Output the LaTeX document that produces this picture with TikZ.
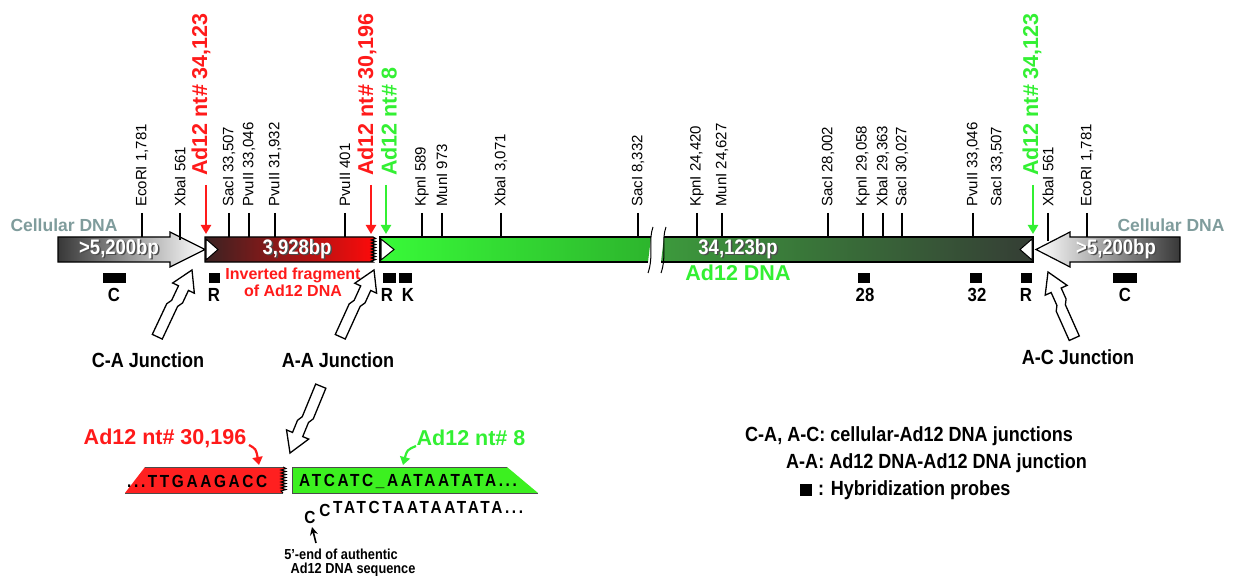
\documentclass[tikz,border=0pt]{standalone}
\usepackage{fontspec}
\setmainfont{Liberation Sans}
\newfontfamily\cf{Liberation Sans}[FakeStretch=0.88]
\usetikzlibrary{calc,arrows.meta}
\definecolor{cellg}{HTML}{7F9C9C}
\definecolor{myred}{HTML}{FF1A1A}
\definecolor{mygreen}{HTML}{33F033}
\definecolor{redL}{HTML}{3A2222}
\definecolor{redR}{HTML}{FF0A0A}
\definecolor{g1L}{HTML}{38FA38}
\definecolor{g1R}{HTML}{2DB52D}
\definecolor{g2L}{HTML}{3C9A3C}
\definecolor{g2R}{HTML}{353D35}
\definecolor{seqred}{HTML}{FF2020}
\definecolor{seqgreen}{HTML}{3CF020}
\tikzset{
 site/.style={font=\fontsize{15}{15}\selectfont, rotate=90, anchor=west, inner sep=0pt},
 adlab/.style={font=\bfseries\fontsize{21.5}{22}\selectfont, rotate=90, anchor=west, inner sep=0pt},
 ticks/.style={line width=1.1pt},
 ptr/.style={line width=2.2pt, -{Triangle[length=9pt,width=10pt]}},
 probebox/.style={fill=black, inner sep=0pt, anchor=north west},
 plab/.style={font=\cf\bfseries\fontsize{19}{19}\selectfont, inner sep=0pt},
 junc/.style={font=\cf\bfseries\fontsize{20.5}{21}\selectfont, inner sep=0pt},
 bptext/.style={font=\cf\bfseries\fontsize{21}{21}\selectfont, text=white, inner sep=0pt},
 bpshadow/.style={font=\cf\bfseries\fontsize{21}{21}\selectfont, text=black!70, inner sep=0pt},
 barrow/.style={draw=black, fill=white, line width=1.3pt, line join=miter},
 outline/.style={draw=black, line width=1.2pt},
 seq/.style={font=\cf\bfseries\fontsize{17.5}{17.5}\selectfont\addfontfeature{LetterSpace=15}, inner sep=0pt},
 leg/.style={font=\cf\bfseries\fontsize{20.5}{21}\selectfont, inner sep=0pt, anchor=west},
 colab/.style={font=\bfseries\fontsize{21.5}{22}\selectfont, inner sep=0pt},
 celllab/.style={font=\bfseries\fontsize{17.5}{18}\selectfont, text=cellg, inner sep=0pt},
 smalllab/.style={font=\cf\bfseries\fontsize{14.5}{15}\selectfont, inner sep=0pt},
}
\newcommand\blockarrow[2]{%
\path[barrow] ($(#1)!8.5pt!90:(#2)$) -- ($(#1)!0.45!(#2)!8.5pt!90:(#2)$)
 -- ($(#1)!0.52!(#2)!5.5pt!90:(#2)$) -- ($(#2)!20pt!(#1)!5.5pt!-90:(#1)$)
 -- ($(#2)!20pt!(#1)!12pt!-90:(#1)$) -- (#2)
 -- ($(#2)!20pt!(#1)!12pt!90:(#1)$) -- ($(#2)!20pt!(#1)!5.5pt!90:(#1)$)
 -- ($(#1)!0.55!(#2)!5.5pt!-90:(#2)$) -- ($(#1)!0.48!(#2)!2.5pt!-90:(#2)$)
 -- ($(#1)!2.5pt!-90:(#2)$) -- cycle;}
\begin{document}
\begin{tikzpicture}[x=1pt,y=-1pt]
\useasboundingbox[fill=white] (0,0) rectangle (1233,577);

% ---------- left cellular arrow
\path[left color=black!78, right color=white, draw=black, line width=1.2pt]
 (58,237) -- (170,237) -- (170,232) -- (205,249.5) -- (170,267) -- (170,262) -- (58,262) -- cycle;
\node[bpshadow] (bpLs) at (120.5,250.5) {>5,200bp};
\node[bptext] (bpL) at (119,249) {>5,200bp};
\node[celllab] (cellL) at (64,225) {Cellular DNA};

% ---------- red inverted fragment
\path[left color=redL, right color=redR, draw=black, line width=1.2pt]
 (205,237) -- (373,237) \foreach \k in {0,...,7} { -- (375.5,{238.5+3*\k}) -- (371.5,{240+3*\k}) } -- (373,262) -- (205,262) -- cycle;
\filldraw[fill=white, draw=black, line width=1pt] (206,239) -- (218,249.5) -- (206,260) -- cycle;
\node[bpshadow] (bpRs) at (298.5,250.5) {3,928bp};
\node[bptext] (bpR) at (297,249) {3,928bp};

% ---------- green Ad12 DNA
\shade[left color=g1L, right color=g1R] (380,237) -- (651,237) -- (648,262) -- (380,262) -- cycle;
\draw[outline] (651,237) -- (380,237) -- (380,262) -- (648,262);
\shade[left color=g2L, right color=g2R] (664,237) -- (1033,237) -- (1033,262) -- (661,262) -- cycle;
\draw[outline] (664,237) -- (1033,237) -- (1033,262) -- (661,262);
\draw[line width=1pt] (653,227) .. controls (648,240) and (654,256) .. (648,273);
\draw[line width=1pt] (666,227) .. controls (661,240) and (667,256) .. (661,273);
\filldraw[fill=white, draw=black, line width=1pt] (381,239) -- (394,249.5) -- (381,260) -- cycle;
\filldraw[fill=white, draw=black, line width=1pt] (1032,239) -- (1020,249.5) -- (1032,260) -- cycle;
\node[bpshadow] (bpGs) at (739.5,250.5) {34,123bp};
\node[bptext] (bpG) at (738,249) {34,123bp};
\node[colab, text=mygreen] (adDNA) at (738,273) {Ad12 DNA};

% ---------- right cellular arrow
\path[left color=white, right color=black!78, draw=black, line width=1.2pt]
 (1036,249.5) -- (1070,232) -- (1070,237) -- (1180,237) -- (1180,262) -- (1070,262) -- (1070,267) -- cycle;
\node[bpshadow] (bpRRs) at (1117.5,250.5) {>5,200bp};
\node[bptext] (bpRR) at (1116,249) {>5,200bp};
\node[celllab] (cellR) at (1171,225) {Cellular DNA};

% ---------- restriction sites
\foreach \x/\t/\b [count=\i] in {142/{EcoRI 1,781}/237, 180/{XbaI 561}/240, 229/{SacI 33,507}/237,
  249/{PvuII 33,046}/237, 275/{PvuII 31,932}/237, 345/{PvuII 401}/237,
  422/{KpnI 589}/237, 442/{MunI 973}/237, 501/{XbaI 3,071}/237, 638/{SacI 8,332}/237,
  697/{KpnI 24,420}/237, 722/{MunI 24,627}/237, 828/{SacI 28,002}/237, 863/{KpnI 29,058}/237,
  883/{XbaI 29,363}/237, 902/{SacI 30,027}/237, 973/{PvuII 33,046}/237,
  1048/{XbaI 561}/241, 1087/{EcoRI 1,781}/237}{
  \coordinate (tb\i) at (\x,\b);
  \coordinate (tt\i) at (\x,213);
  \node[site] (s\i) at (\x,207) {\t};
  \draw[ticks] (tt\i) -- (tb\i);
}
\node[site] (sNoTick) at (997,207) {SacI 33,507};

% ---------- junction pointers (top)
\coordinate (pa1) at (206,185); \coordinate (pa1e) at (206,234);
\draw[ptr, myred] (pa1) -- (pa1e);
\node[adlab, text=myred] (ad1) at (201,176) {Ad12 nt\# 34,123};
\coordinate (pa2) at (371,185); \coordinate (pa2e) at (371,234);
\draw[ptr, myred] (pa2) -- (pa2e);
\node[adlab, text=myred] (ad2) at (367,176) {Ad12 nt\# 30,196};
\coordinate (pa3) at (386,185); \coordinate (pa3e) at (386,234);
\draw[ptr, mygreen] (pa3) -- (pa3e);
\node[adlab, text=mygreen] (ad3) at (389,176) {Ad12 nt\# 8};
\coordinate (pa4) at (1033,185); \coordinate (pa4e) at (1033,234);
\draw[ptr, mygreen] (pa4) -- (pa4e);
\node[adlab, text=mygreen] (ad4) at (1032,176) {Ad12 nt\# 34,123};

% ---------- probes
\node[probebox, minimum width=23pt, minimum height=10pt] (pb1) at (103,273) {};
\node[plab] (pl1) at (114,295) {C};
\node[probebox, minimum width=11pt, minimum height=10pt] (pb2) at (209,273) {};
\node[plab] (pl2) at (214,295) {R};
\node[probebox, minimum width=13pt, minimum height=10pt] (pb3) at (383,273) {};
\node[probebox, minimum width=13pt, minimum height=10pt] (pb4) at (399,273) {};
\node[plab] (pl3) at (387,295) {R};
\node[plab] (pl4) at (408,295) {K};
\node[probebox, minimum width=12pt, minimum height=10pt] (pb5) at (858,273) {};
\node[plab] (pl5) at (865,295) {28};
\node[probebox, minimum width=12pt, minimum height=10pt] (pb6) at (970,273) {};
\node[plab] (pl6) at (977,295) {32};
\node[probebox, minimum width=11pt, minimum height=10pt] (pb7) at (1021,273) {};
\node[plab] (pl7) at (1026,295) {R};
\node[probebox, minimum width=24pt, minimum height=10pt] (pb8) at (1113,273) {};
\node[plab] (pl8) at (1125,295) {C};

\node[font=\bfseries\fontsize{16}{16}\selectfont, text=myred, align=center, inner sep=0pt] (inv) at (293,282)
 {Inverted fragment\\[1pt]of Ad12 DNA};

% ---------- junction block arrows
\coordinate (caT) at (160,338); \coordinate (caH) at (192,270);
\blockarrow{caT}{caH}
\coordinate (aaT) at (343,338); \coordinate (aaH) at (374,270);
\blockarrow{aaT}{aaH}
\coordinate (acT) at (1077,337); \coordinate (acH) at (1048,272);
\blockarrow{acT}{acH}
\node[junc] (jca) at (148,360) {C-A Junction};
\node[junc] (jaa) at (338,360) {A-A Junction};
\node[junc] (jac) at (1078,357) {A-C Junction};

\coordinate (adT) at (318,385); \coordinate (adH) at (290,453);
\blockarrow{adT}{adH}

% ---------- sequence detail
\node[colab, text=myred] (b1) at (165,438) {Ad12 nt\# 30,196};
\coordinate (rq0) at (249,445); \coordinate (rq1) at (259,465);
\draw[line width=2.2pt, myred, -{Triangle[length=8pt,width=10pt]}] (rq0) .. controls (256,449) .. (rq1);
\node[colab, text=mygreen] (b2) at (471,438) {Ad12 nt\# 8};
\coordinate (gq0) at (416,446); \coordinate (gq1) at (403,465);
\draw[line width=2.2pt, mygreen, -{Triangle[length=8pt,width=10pt]}] (gq0) .. controls (407,450) .. (gq1);

\path[fill=seqred] (145,467) -- (283,467) \foreach \k in {0,...,7} { -- (286,{468.5+3*\k}) -- (281,{470+3*\k}) } -- (283,493) -- (125,493) -- cycle;
\draw[line width=1pt, black!70] (145,467) -- (283,467);
\draw[line width=1pt, black!70] (125,493) -- (283,493);
\draw[line width=1pt] (283,467) \foreach \k in {0,...,7} { -- (286,{468.5+3*\k}) -- (281,{470+3*\k}) } -- (283,493);
\path[fill=seqgreen] (292,467) -- (507,467) -- (538,493) -- (292,493) -- cycle;
\draw[line width=1pt, black!70] (507,467) -- (292,467) -- (292,493) -- (538,493);

\node[seq, anchor=west] (rs) at (127,481) {...TTGAAGACC};
\node[seq, anchor=west] (gs) at (299,481) {ATCATC\_AATAATATA...};
\node[seq] (c1) at (310,517) {C};
\node[seq] (c2) at (325,510) {C};
\node[seq, anchor=west] (cs) at (333,507) {TATCTAATAATATA...};
\coordinate (cur0) at (316,543); \coordinate (cur1) at (312,527);
\draw[line width=1.6pt, -{Stealth[length=8pt,width=8pt]}] (cur0) -- (cur1);
\node[smalllab] (n5a) at (341,554) {5’-end of authentic};
\node[smalllab] (n5b) at (353,570) {Ad12 DNA sequence};

% ---------- legend
\node[leg] (l1) at (745,436) {C-A, A-C: cellular-Ad12 DNA junctions};
\node[leg] (l2) at (786,463) {A-A: Ad12 DNA-Ad12 DNA junction};
\node[fill=black, minimum size=12pt, inner sep=0pt] (lsq) at (806,490) {};
\node[leg] (l3) at (818,490) {: Hybridization probes};
\end{tikzpicture}
\end{document}
